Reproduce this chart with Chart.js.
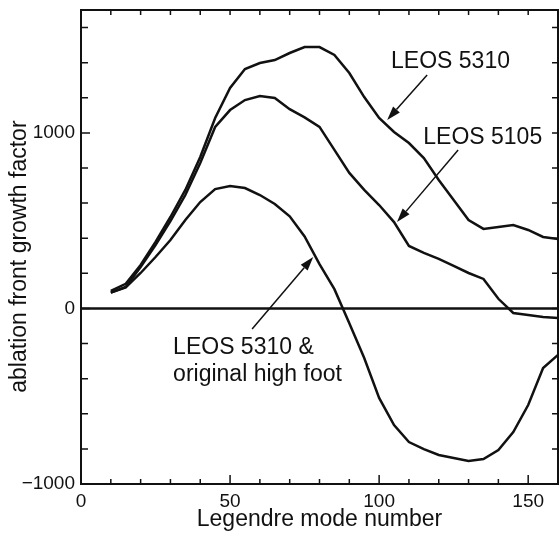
<!DOCTYPE html>
<html>
<head>
<meta charset="utf-8">
<script src="https://cdn.jsdelivr.net/npm/chart.js@4/dist/chart.umd.min.js"></script>
<style>
  html, body { margin: 0; padding: 0; background: #fff; }
  #wrap { width: 560px; height: 533px; position: relative; }
</style>
</head>
<body>
<div id="wrap"><canvas id="growthChart"></canvas></div>
<script>
// Legendre mode numbers (x) and growth factors
const modes = [10, 15, 20, 25, 30, 35, 40, 45, 50, 55, 60, 65, 70, 75, 80, 85,
               90, 95, 100, 105, 110, 115, 120, 125, 130, 135, 140, 145, 150, 155, 160];
const leos5310 = [100, 140, 248, 379, 521, 675, 863, 1085, 1256, 1364, 1398, 1415, 1455, 1489, 1489, 1444,
                  1341, 1204, 1085, 1005, 942, 857, 732, 618, 504, 453, 464, 475, 447, 407, 396];
const leos5105 = [90, 122, 236, 361, 498, 646, 828, 1034, 1130, 1187, 1210, 1199, 1135, 1088, 1034, 903,
                  772, 675, 589, 492, 356, 316, 282, 242, 202, 168, 55, -26, -37, -49, -54];
const highFoot = [90, 120, 202, 293, 390, 504, 606, 680, 698, 686, 646, 595, 525, 410, 252, 110,
                  -85, -282, -510, -664, -761, -801, -835, -852, -869, -858, -806, -704, -550, -339, -265];
const xLabelTicks = [0, 50, 100, 150];
const yLabelTicks = [-1000, 0, 1000];

// text labels and arrows, placed in data units
const notes = [
    { text: 'LEOS 5310', x: 104, y: 1370 },
    { text: 'LEOS 5105', x: 114.8, y: 937 },
    { text: 'LEOS 5310 &', x: 30.9, y: -259 },
    { text: 'original high foot', x: 30.9, y: -413 }
];
const arrows = [
    { from: [116.1, 1330], to: [102.7, 1073] },
    { from: [126.5, 903], to: [106, 492] },
    { from: [57.4, -117], to: [77.9, 293] }
];

const FONT = '"Liberation Sans", Arial, Helvetica, sans-serif';

function pts(ys) {
    return modes.map((m, i) => ({ x: m, y: ys[i] }));
}

// frame with inward ticks on all four sides
const framePlugin = {
    id: 'frame',
    afterDatasetsDraw(chart) {
        const { ctx, chartArea: a, scales: { x, y } } = chart;
        ctx.save();
        ctx.strokeStyle = '#111';
        ctx.lineWidth = 2;
        ctx.strokeRect(a.left, a.top, a.right - a.left, a.bottom - a.top);
        ctx.lineWidth = 1.5;
        ctx.beginPath();
        for (let v = 0; v <= 160; v += 10) {
            const px = x.getPixelForValue(v);
            const big = v % 50 === 0;
            ctx.moveTo(px, a.bottom); ctx.lineTo(px, a.bottom - (big ? 9 : 5));
            ctx.moveTo(px, a.top); ctx.lineTo(px, a.top + 5);
        }
        for (let v = -1000; v <= 1600; v += 200) {
            const py = y.getPixelForValue(v);
            const big = v % 1000 === 0;
            ctx.moveTo(a.left, py); ctx.lineTo(a.left + (big ? 9 : 7), py);
            ctx.moveTo(a.right, py); ctx.lineTo(a.right - 6, py);
        }
        ctx.stroke();
        ctx.restore();
    }
};

const notesPlugin = {
    id: 'notes',
    afterDraw(chart) {
        const { ctx, scales: { x, y } } = chart;
        ctx.save();
        ctx.fillStyle = '#111';
        ctx.strokeStyle = '#111';
        ctx.font = '23px ' + FONT;
        ctx.textAlign = 'left';
        ctx.textBaseline = 'alphabetic';
        notes.forEach(n => ctx.fillText(n.text, x.getPixelForValue(n.x), y.getPixelForValue(n.y)));

        ctx.lineWidth = 1.5;
        arrows.forEach(ar => {
            const x0 = x.getPixelForValue(ar.from[0]), y0 = y.getPixelForValue(ar.from[1]);
            const x1 = x.getPixelForValue(ar.to[0]), y1 = y.getPixelForValue(ar.to[1]);
            const ang = Math.atan2(y1 - y0, x1 - x0);
            const len = 14, half = 4.5;
            const bx = x1 - len * Math.cos(ang), by = y1 - len * Math.sin(ang);
            ctx.beginPath();
            ctx.moveTo(x0, y0);
            ctx.lineTo(bx, by);
            ctx.stroke();
            ctx.beginPath();
            ctx.moveTo(x1, y1);
            ctx.lineTo(bx + half * Math.sin(ang), by - half * Math.cos(ang));
            ctx.lineTo(bx - half * Math.sin(ang), by + half * Math.cos(ang));
            ctx.closePath();
            ctx.fill();
        });
        ctx.restore();
    }
};

const lineStyle = {
    borderColor: '#111',
    borderWidth: 2.5,
    pointRadius: 0,
    tension: 0,
    fill: false
};

new Chart(document.getElementById('growthChart').getContext('2d'), {
    type: 'line',
    data: {
        datasets: [
            Object.assign({ label: 'LEOS 5310', data: pts(leos5310) }, lineStyle),
            Object.assign({ label: 'LEOS 5105', data: pts(leos5105) }, lineStyle),
            Object.assign({ label: 'LEOS 5310 & original high foot', data: pts(highFoot) }, lineStyle),
            Object.assign({ label: 'zero', data: [{ x: 0, y: 0 }, { x: 160, y: 0 }] }, lineStyle)
        ]
    },
    options: {
        responsive: true,
        maintainAspectRatio: false,
        animation: false,
        layout: { padding: { left: 0, right: 2, top: 10, bottom: 0 } },
        plugins: {
            legend: { display: false },
            tooltip: { enabled: false }
        },
        scales: {
            x: {
                type: 'linear',
                min: 0,
                max: 160,
                grid: { display: false, drawTicks: false },
                border: { display: false },
                ticks: {
                    stepSize: 10,
                    autoSkip: false,
                    maxRotation: 0,
                    padding: 6,
                    color: '#111',
                    font: { family: FONT, size: 19 },
                    callback: v => xLabelTicks.includes(v) ? String(v) : ''
                },
                title: {
                    display: true,
                    text: 'Legendre mode number',
                    color: '#111',
                    font: { family: FONT, size: 23 },
                    padding: { top: 0, bottom: 0 }
                },
                afterFit(scale) {
                    scale.height = 49;
                    scale.paddingLeft = 0;
                    scale.paddingRight = 0;
                }
            },
            y: {
                min: -1000,
                max: 1700,
                grid: { display: false, drawTicks: false },
                border: { display: false },
                ticks: {
                    stepSize: 200,
                    autoSkip: false,
                    padding: 6,
                    color: '#111',
                    font: { family: FONT, size: 19 },
                    callback: v => yLabelTicks.includes(v) ? (v < 0 ? '\u2212' + Math.abs(v) : String(v)) : ''
                },
                title: {
                    display: true,
                    text: 'ablation front growth factor   ',
                    color: '#111',
                    font: { family: FONT, size: 23 },
                    padding: { top: 6, bottom: 0 }
                },
                afterFit(scale) {
                    scale.width = 81;
                    scale.paddingTop = 0;
                    scale.paddingBottom = 0;
                }
            }
        }
    },
    plugins: [framePlugin, notesPlugin]
});
</script>
</body>
</html>
